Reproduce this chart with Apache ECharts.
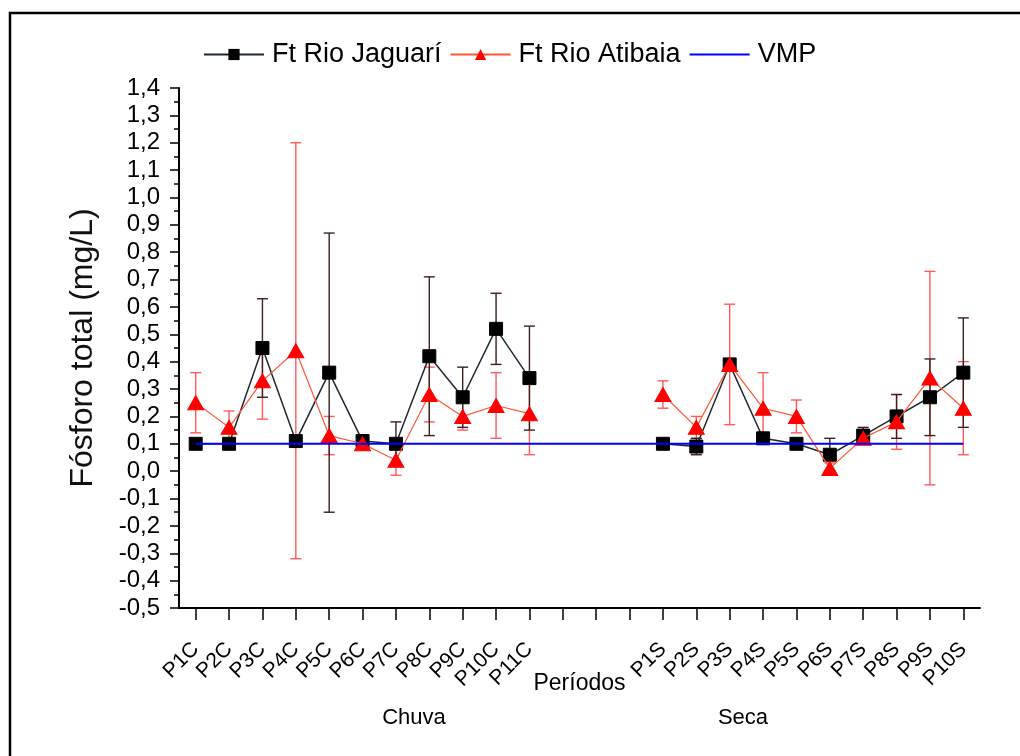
<!DOCTYPE html>
<html>
<head>
<meta charset="utf-8">
<script src="https://cdn.jsdelivr.net/npm/echarts@6/dist/echarts.min.js"></script>
<style>
  html, body { margin: 0; padding: 0; background: #fff; }
  #chart { width: 1020px; height: 756px; }
</style>
</head>
<body>
<div id="chart"></div>
<script>
// Sampling periods: rainy season (C), three spacer slots, dry season (S)
const categories = [
  'P1C', 'P2C', 'P3C', 'P4C', 'P5C', 'P6C', 'P7C', 'P8C', 'P9C', 'P10C', 'P11C',
  '', '', '',
  'P1S', 'P2S', 'P3S', 'P4S', 'P5S', 'P6S', 'P7S', 'P8S', 'P9S', 'P10S'
];

// Total phosphorus (mg/L), mean values
const jaguari = [
  0.10, 0.10, 0.45, 0.11, 0.36, 0.11, 0.10, 0.42, 0.27, 0.52, 0.34,
  null, null, null,
  0.10, 0.09, 0.39, 0.12, 0.10, 0.06, 0.13, 0.20, 0.27, 0.36
];
const jaguariErr = [
  0.00, 0.01, 0.18, 0.01, 0.51, 0.01, 0.08, 0.29, 0.11, 0.13, 0.19,
  null, null, null,
  0.005, 0.03, 0.02, 0.01, 0.01, 0.06, 0.03, 0.08, 0.14, 0.20
];

const atibaia = [
  0.25, 0.16, 0.33, 0.44, 0.13, 0.10, 0.04, 0.28, 0.20, 0.24, 0.21,
  null, null, null,
  0.28, 0.16, 0.39, 0.23, 0.20, 0.01, 0.12, 0.18, 0.34, 0.23
];
const atibaiaErr = [
  0.11, 0.06, 0.14, 0.76, 0.07, 0.01, 0.055, 0.10, 0.05, 0.12, 0.15,
  null, null, null,
  0.05, 0.04, 0.22, 0.13, 0.06, 0.02, 0.02, 0.10, 0.39, 0.17
];

// Maximum permitted value (VMP)
const vmp = categories.map(() => 0.10);

const yTicks = { min: -0.5, max: 1.4, step: 0.1 };
const seasonLabels = [
  { text: 'Chuva', x: 414 },
  { text: 'Seca', x: 743 }
];

const FONT = '"Liberation Sans", Arial, sans-serif';

function errorTriples(values, errs) {
  const out = [];
  values.forEach((v, i) => {
    if (v !== null && errs[i] !== null) out.push([i, v, errs[i]]);
  });
  return out;
}

function errorBarSeries(id, values, errs, color, z) {
  return {
    id: id,
    type: 'custom',
    z: z,
    silent: true,
    encode: { x: 0, y: 1 },
    data: errorTriples(values, errs),
    renderItem: function (params, api) {
      const i = api.value(0);
      const v = api.value(1);
      const e = api.value(2);
      const hi = api.coord([i, v + e]);
      const lo = api.coord([i, v - e]);
      const hw = 5.5;
      const st = { stroke: color, lineWidth: 1.4 };
      return {
        type: 'group',
        children: [
          { type: 'line', shape: { x1: hi[0], y1: hi[1], x2: lo[0], y2: lo[1] }, style: st },
          { type: 'line', shape: { x1: hi[0] - hw, y1: hi[1], x2: hi[0] + hw, y2: hi[1] }, style: st },
          { type: 'line', shape: { x1: lo[0] - hw, y1: lo[1], x2: lo[0] + hw, y2: lo[1] }, style: st }
        ]
      };
    }
  };
}

const chart = echarts.init(document.getElementById('chart'), null, { renderer: 'canvas' });

chart.setOption({
  backgroundColor: '#ffffff',
  animation: false,
  legend: {
    left: 198,
    top: 36,
    itemWidth: 60,
    itemHeight: 14,
    itemGap: 8,
    data: [
      { name: 'Ft Rio Jaguarí' },
      { name: 'Ft Rio Atibaia' },
      { name: 'VMP', itemStyle: { opacity: 0 } }
    ],
    textStyle: { fontFamily: FONT, fontSize: 27, color: '#000', padding: [0, 0, 0, 3] }
  },
  grid: { left: 179, right: 40, top: 88, bottom: 148, containLabel: false },
  xAxis: {
    type: 'category',
    data: categories,
    boundaryGap: true,
    name: 'Períodos',
    nameLocation: 'middle',
    nameGap: 64,
    nameMoveOverlap: false,
    nameTextStyle: { fontFamily: FONT, fontSize: 23, color: '#000' },
    axisLine: { show: true, onZero: false, lineStyle: { color: '#000', width: 2 } },
    axisTick: {
      show: true,
      inside: false,
      interval: 0,
      alignWithLabel: true,
      length: 12,
      lineStyle: { color: '#000', width: 1.5 }
    },
    axisLabel: {
      interval: 0,
      rotate: 45,
      margin: 38,
      fontFamily: FONT,
      fontSize: 21,
      color: '#000'
    },
    splitLine: { show: false }
  },
  yAxis: {
    type: 'value',
    min: yTicks.min,
    max: yTicks.max,
    interval: yTicks.step,
    name: 'Fósforo total (mg/L)',
    nameLocation: 'middle',
    nameRotate: 90,
    nameGap: 80,
    nameMoveOverlap: false,
    nameTextStyle: { fontFamily: FONT, fontSize: 32, color: '#111' },
    axisLine: { show: true, onZero: false, lineStyle: { color: '#000', width: 2 } },
    axisTick: { show: true, inside: false, length: 9, lineStyle: { color: '#000', width: 1.5 } },
    minorTick: { show: true, splitNumber: 2, length: 5, lineStyle: { color: '#000', width: 1.5 } },
    axisLabel: {
      margin: 19,
      fontFamily: FONT,
      fontSize: 24,
      color: '#000',
      formatter: v => v.toFixed(1).replace('.', ',')
    },
    splitLine: { show: false }
  },
  graphic: [
    {
      type: 'rect',
      shape: { x: 10, y: 13, width: 1040, height: 780 },
      style: { fill: null, stroke: '#000', lineWidth: 2.5 },
      silent: true,
      z: 100
    }
  ].concat(seasonLabels.map(s => ({
    type: 'text',
    x: s.x,
    y: 718,
    style: {
      text: s.text,
      fontFamily: FONT,
      fontSize: 22,
      fill: '#000',
      align: 'center',
      verticalAlign: 'middle'
    }
  }))),
  series: [
    errorBarSeries('err-atibaia', atibaia, atibaiaErr, '#ff5a5a', 1),
    errorBarSeries('err-jaguari', jaguari, jaguariErr, '#3a2020', 2),
    {
      name: 'Ft Rio Jaguarí',
      type: 'line',
      z: 3,
      data: jaguari,
      connectNulls: false,
      symbol: 'rect',
      symbolSize: 13,
      lineStyle: { color: '#1e2833', width: 1.5 },
      itemStyle: { color: '#000', borderColor: '#000' }
    },
    {
      name: 'Ft Rio Atibaia',
      type: 'line',
      z: 4,
      data: atibaia,
      connectNulls: false,
      symbol: 'triangle',
      symbolSize: [16, 14],
      lineStyle: { color: '#ff5533', width: 1.2 },
      itemStyle: { color: '#ff0000', borderColor: '#ff0000' }
    },
    {
      name: 'VMP',
      type: 'line',
      z: 5,
      data: vmp,
      symbol: 'none',
      lineStyle: { color: '#0000ff', width: 2 },
      itemStyle: { color: '#0000ff' }
    }
  ]
});
</script>
</body>
</html>
